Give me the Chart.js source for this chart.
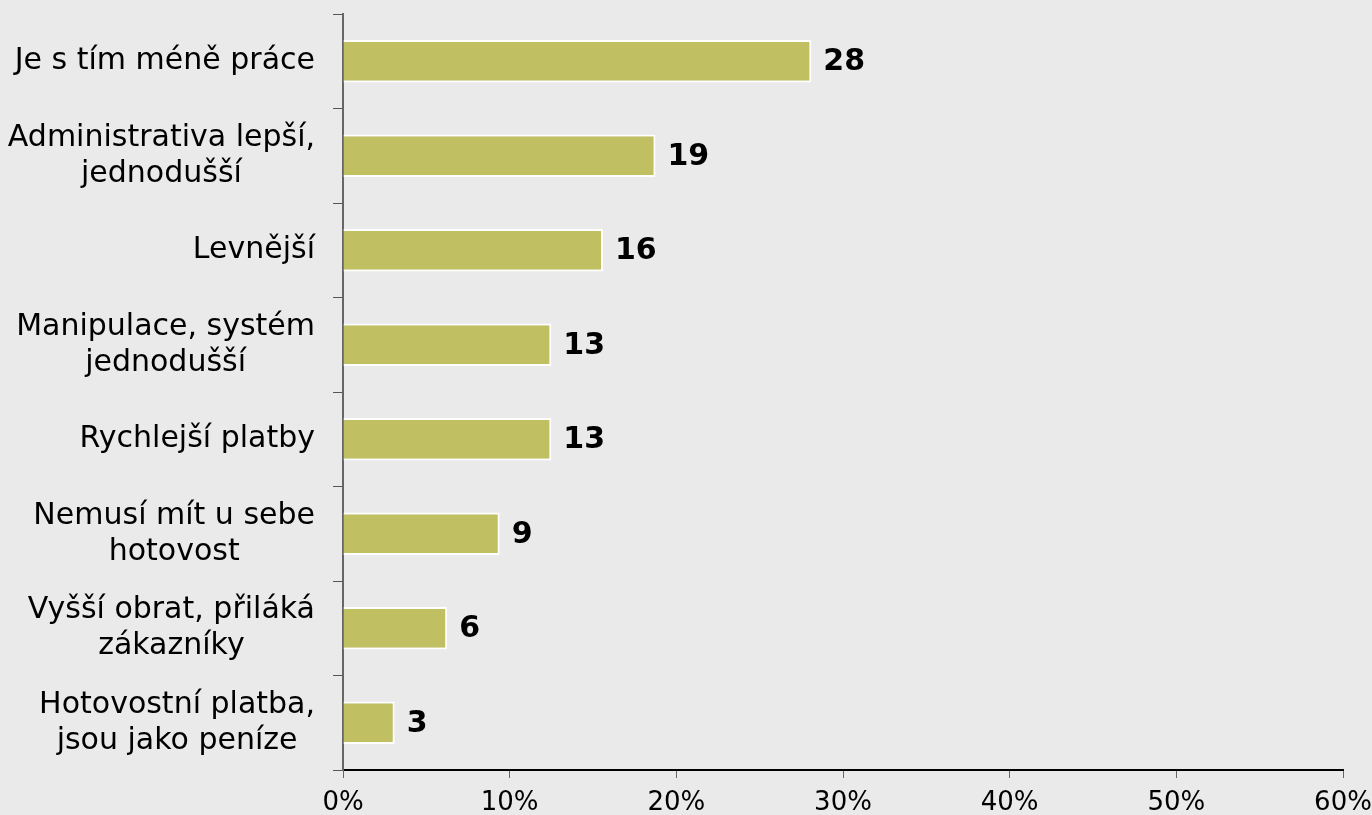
<!DOCTYPE html>
<html>
<head>
<meta charset="utf-8">
<script src="https://cdn.jsdelivr.net/npm/chart.js@4/dist/chart.umd.min.js"></script>
<style>
  html, body { margin: 0; padding: 0; background: #eaeaea; }
  #wrap { width: 1372px; height: 815px; }
</style>
</head>
<body>
<div id="wrap"><canvas id="barChart"></canvas></div>
<script>
const categories = [
  ["Je s tím méně práce"],
  ["Administrativa lepší,", "jednodušší"],
  ["Levnější"],
  ["Manipulace, systém", "jednodušší"],
  ["Rychlejší platby"],
  ["Nemusí mít u sebe", "hotovost"],
  ["Vyšší obrat, přiláká", "zákazníky"],
  ["Hotovostní platba,", "jsou jako peníze"]
];
const shares = [28.1, 18.75, 15.6, 12.5, 12.5, 9.4, 6.25, 3.1]; // % of respondents
const valueLabels = ["28", "19", "16", "13", "13", "9", "6", "3"];
const xTicks = [0, 10, 20, 30, 40, 50, 60];

const FONT = "'DejaVu Sans', Verdana, sans-serif";

// draws the category names: block right aligned, lines centred inside it
const catLabels = {
  id: "catLabels",
  afterDraw(chart) {
    const ctx = chart.ctx;
    const y = chart.scales.y;
    const right = y.right - 28;
    const lh = 36;
    ctx.save();
    ctx.font = "30px " + FONT;
    ctx.fillStyle = "#000";
    ctx.textAlign = "center";
    ctx.textBaseline = "middle";
    categories.forEach((lines, i) => {
      const w = Math.max(...lines.map(l => ctx.measureText(l).width));
      const cx = right - w / 2;
      const cy = y.getPixelForValue(i);
      lines.forEach((l, k) => {
        ctx.fillText(l, cx, cy + (k - (lines.length - 1) / 2) * lh);
      });
    });
    ctx.restore();
  }
};

// bold numbers at the end of each bar
const valueTags = {
  id: "valueTags",
  afterDatasetsDraw(chart) {
    const ctx = chart.ctx;
    const meta = chart.getDatasetMeta(0);
    ctx.save();
    ctx.font = "bold 30px " + FONT;
    ctx.fillStyle = "#000";
    ctx.textAlign = "left";
    ctx.textBaseline = "middle";
    meta.data.forEach((bar, i) => {
      ctx.fillText(valueLabels[i], bar.x + 12, bar.y + 1);
    });
    ctx.restore();
  }
};

new Chart("barChart", {
  type: "bar",
  data: {
    labels: categories,
    datasets: [{
      data: shares,
      backgroundColor: "#c0bf62",
      borderColor: "#ffffff",
      borderWidth: 2,
      borderSkipped: "start",
      barPercentage: 0.45,
      categoryPercentage: 1
    }]
  },
  options: {
    indexAxis: "y",
    responsive: true,
    maintainAspectRatio: false,
    animation: false,
    layout: { padding: { top: 14, right: 0, left: 0, bottom: 0 } },
    plugins: {
      legend: { display: false },
      tooltip: { enabled: false }
    },
    scales: {
      x: {
        min: 0,
        max: 60,
        afterBuildTicks(axis) { axis.ticks = xTicks.map(v => ({ value: v })); },
        ticks: {
          callback: v => v + "%",
          color: "#000",
          font: { family: FONT, size: 26 },
          padding: 10,
          maxRotation: 0
        },
        grid: {
          drawOnChartArea: false,
          drawTicks: true,
          tickLength: 8,
          color: "#666"
        },
        border: { color: "#000", width: 2 },
        afterFit(axis) {
          axis.height = 45;
          axis.paddingLeft = 0;
          axis.paddingRight = 29;
        }
      },
      y: {
        ticks: { display: false },
        grid: {
          offset: true,
          drawOnChartArea: false,
          drawTicks: true,
          tickLength: 10,
          color: "#555"
        },
        border: { color: "#666", width: 2 },
        afterFit(axis) { axis.width = 343; }
      }
    }
  },
  plugins: [catLabels, valueTags]
});
</script>
</body>
</html>
